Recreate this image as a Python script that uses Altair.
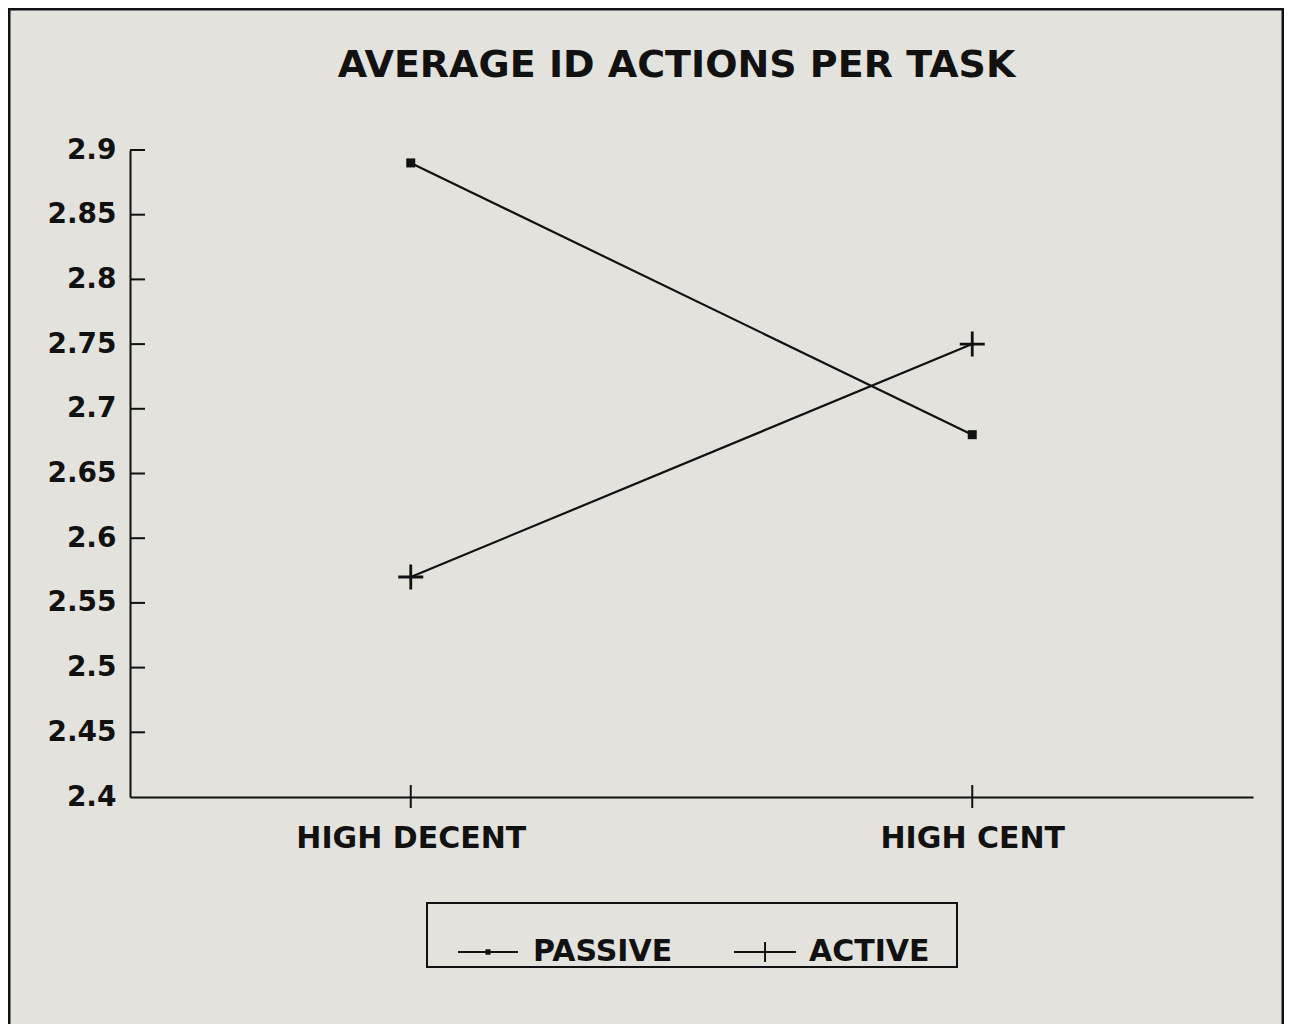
import altair as alt
import pandas as pd

CATEGORIES = ["HIGH DECENT", "HIGH CENT"]
SERIES = ["PASSIVE", "ACTIVE"]
PASSIVE = [2.89, 2.68]
ACTIVE = [2.57, 2.75]
Y_TICKS = [2.4, 2.45, 2.5, 2.55, 2.6, 2.65, 2.7, 2.75, 2.8, 2.85, 2.9]
TITLE = "AVERAGE ID ACTIONS PER TASK"

rows = []
for s, vals in zip(SERIES, [PASSIVE, ACTIVE]):
    for c, v in zip(CATEGORIES, vals):
        rows.append({"category": c, "series": s, "value": v})
df = pd.DataFrame(rows)
ticks_df = pd.DataFrame({"value": Y_TICKS[1:]})
cat_df = pd.DataFrame({"category": CATEGORIES})
one_df = pd.DataFrame({"a": [0]})

W, H = 1123, 647
FONT = "DejaVu Sans"
INK = "#111111"
BG = "#e3e2dd"

x_scale = alt.Scale(type="point", padding=0.5)
y_scale = alt.Scale(domain=[2.4, 2.9], nice=False, zero=False)

x_axis = alt.Axis(title=None, labelAngle=0, ticks=False, labelPadding=26,
                  labelFontSize=30, labelFont=FONT, labelFontWeight="bold",
                  labelColor=INK, domainColor=INK, domainWidth=2, grid=False,
                  labelLimit=500)
y_axis = alt.Axis(title=None, values=Y_TICKS, format=".2~f", ticks=False, grid=False,
                  labelPadding=14, labelFontSize=28, labelFont=FONT,
                  labelFontWeight="bold", labelColor=INK, domainColor=INK,
                  domainWidth=2)

x_enc = alt.X("category:N", sort=CATEGORIES, scale=x_scale, axis=x_axis)
y_enc = alt.Y("value:Q", scale=y_scale, axis=y_axis)

# outer frame of the figure (decoration)
border = alt.Chart(one_df).mark_rect(filled=False, stroke=INK, strokeWidth=3).encode(
    x=alt.value(-121), x2=alt.value(1153), y=alt.value(-141), y2=alt.value(900)
)
# legend frame (decoration)
legend_box = alt.Chart(one_df).mark_rect(filled=False, stroke=INK, strokeWidth=2).encode(
    x=alt.value(297), x2=alt.value(827), y=alt.value(753), y2=alt.value(817)
)

lines = alt.Chart(df).mark_line(color=INK, strokeWidth=2.2).encode(
    x=x_enc, y=y_enc, detail="series:N"
)

y_ticks = alt.Chart(ticks_df).mark_rule(color=INK, strokeWidth=2).encode(
    y=y_enc, x=alt.value(0), x2=alt.value(15)
)

x_ticks = alt.Chart(cat_df).mark_rule(color=INK, strokeWidth=2).encode(
    x=x_enc, y=alt.value(H - 12), y2=alt.value(H + 11)
)

passive_pts = alt.Chart(df).transform_filter(alt.datum.series == "PASSIVE").mark_point(
    shape="square", filled=True, size=81, color=INK, opacity=1
).encode(x=x_enc, y=y_enc)

active_pts = alt.Chart(df).transform_filter(alt.datum.series == "ACTIVE").mark_point(
    shape="M-1,0H1M0,-1V1", filled=False, size=625, color=INK, strokeWidth=2.8, opacity=1
).encode(x=x_enc, y=y_enc)

LEG_PASSIVE = "M-1,0H3M0.83,-0.12H1.17M0.83,0.12H1.17M0.83,0.12H1.17"
LEG_ACTIVE = "M-1,0H3.13M1.07,-0.67V0.67"

legend_layer = alt.Chart(df).mark_point(
    opacity=0, filled=False, size=900, color=INK, strokeWidth=2
).encode(
    x=x_enc, y=y_enc,
    shape=alt.Shape(
        "series:N",
        scale=alt.Scale(domain=SERIES, range=[LEG_PASSIVE, LEG_ACTIVE]),
        legend=alt.Legend(
            title=None, orient="none", legendX=327, legendY=786,
            direction="horizontal", padding=0,
            symbolSize=900, symbolStrokeWidth=2, symbolStrokeColor=INK,
            symbolFillColor=INK, symbolOpacity=1, labelOffset=44,
            columnPadding=57, labelFont=FONT, labelFontSize=30,
            labelFontWeight="bold", labelColor=INK, labelBaseline="middle",
            labelLimit=400,
        ),
    ),
)

chart = alt.layer(
    border, legend_box, lines, y_ticks, x_ticks, passive_pts, active_pts, legend_layer
).properties(
    width=W, height=H,
    title=alt.TitleParams(TITLE, font=FONT, fontSize=38, fontWeight="bold",
                          color=INK, anchor="middle", frame="group", dx=-15,
                          offset=-107, baseline="alphabetic"),
    autosize=alt.AutoSizeParams(type="none"),
    padding={"left": 122, "top": 142, "right": 31, "bottom": 227},
    background=BG,
).configure_view(stroke=None)

chart.save("out.html", embed_options={"renderer": "svg", "actions": False})
